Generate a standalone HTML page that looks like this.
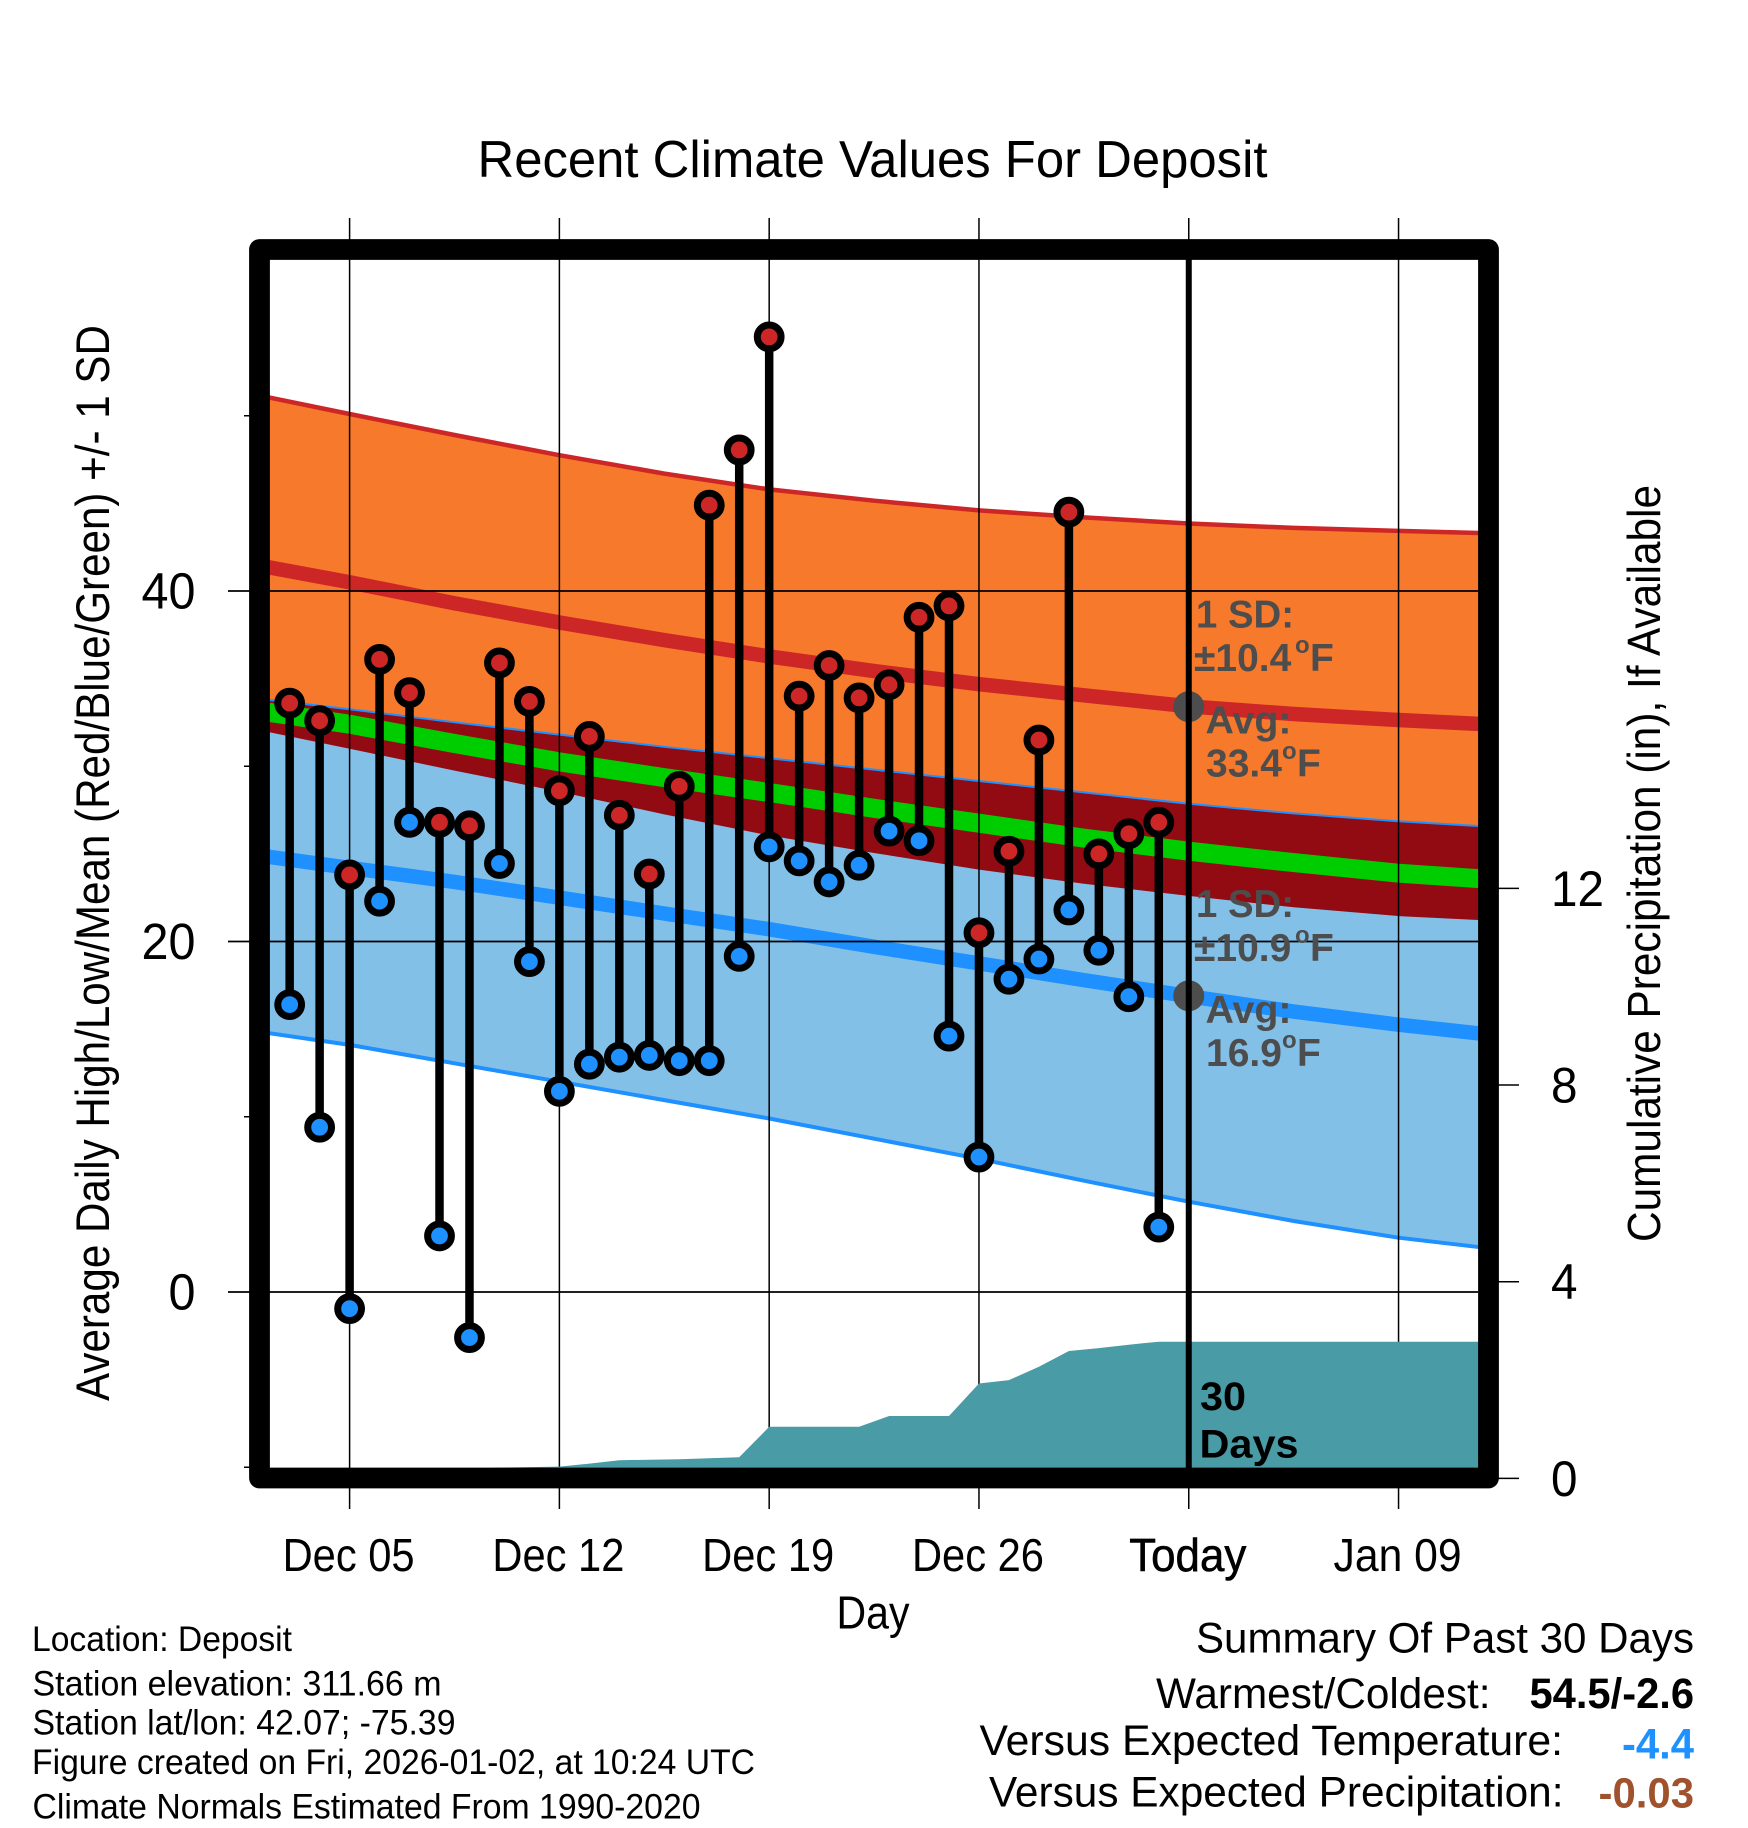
<!DOCTYPE html>
<html lang="en">
<head>
<meta charset="utf-8">
<title>Recent Climate Values For Deposit</title>
<style>
html,body{margin:0;padding:0;background:#fff;width:1748px;height:1828px;overflow:hidden}
svg{display:block;font-family:"Liberation Sans",Arial,Helvetica,sans-serif}
text{fill:#000}
.ann{font-weight:700;fill:#4d4d4d;font-size:39px}
.deg{font-weight:700;fill:#4d4d4d;font-size:24px}
</style>
</head>
<body>
<svg id="chart" xmlns="http://www.w3.org/2000/svg" width="1748" height="1828" viewBox="0 0 1748 1828">
  <rect x="0" y="0" width="1748" height="1828" fill="#fff"/>
  <g id="normals"></g>
  <g id="grid"></g>
  <g id="precip"></g>
  <g id="temps"></g>
  <g id="today"></g>
  <rect x="259.5" y="249.5" width="1229" height="1228.5" fill="none" stroke="#000" stroke-width="20.8" stroke-linejoin="round"/>
  <g id="ticks"></g>
  <g id="labels"></g>

  <text x="477.5" y="177" font-size="52" textLength="790" lengthAdjust="spacingAndGlyphs">Recent Climate Values For Deposit</text>
  <text transform="translate(109,1401) rotate(-90)" x="0" y="0" font-size="47" textLength="1076" lengthAdjust="spacingAndGlyphs">Average Daily High/Low/Mean (Red/Blue/Green) +/- 1 SD</text>
  <text transform="translate(1660,1242) rotate(-90)" x="0" y="0" font-size="46" textLength="757" lengthAdjust="spacingAndGlyphs">Cumulative Precipitation (in), If Available</text>
  <text x="836.5" y="1628.7" font-size="46" textLength="73" lengthAdjust="spacingAndGlyphs">Day</text>

  <g>
    <text class="ann" x="1196" y="627.5" textLength="98" lengthAdjust="spacingAndGlyphs">1 SD:</text>
    <text class="ann" y="671"><tspan x="1194">±10.4</tspan><tspan class="deg" x="1295" y="653">o</tspan><tspan x="1310" y="671">F</tspan></text>
    <text class="ann" x="1205.5" y="733.5" textLength="86" lengthAdjust="spacingAndGlyphs">Avg:</text>
    <text class="ann" y="776.5"><tspan x="1206">33.4</tspan><tspan class="deg" x="1282" y="759">o</tspan><tspan x="1297" y="776.5">F</tspan></text>
  </g>
  <g>
    <text class="ann" x="1196" y="917" textLength="98" lengthAdjust="spacingAndGlyphs">1 SD:</text>
    <text class="ann" y="961"><tspan x="1194">±10.9</tspan><tspan class="deg" x="1295" y="943">o</tspan><tspan x="1310" y="961">F</tspan></text>
    <text class="ann" x="1205.5" y="1023" textLength="86" lengthAdjust="spacingAndGlyphs">Avg:</text>
    <text class="ann" y="1066"><tspan x="1206">16.9</tspan><tspan class="deg" x="1282" y="1048">o</tspan><tspan x="1297" y="1066">F</tspan></text>
  </g>
  <text x="1200" y="1410" font-size="40" font-weight="700" textLength="46" lengthAdjust="spacingAndGlyphs">30</text>
  <text x="1199.5" y="1457.5" font-size="40" font-weight="700" textLength="99" lengthAdjust="spacingAndGlyphs">Days</text>

  <g font-size="35">
    <text x="32" y="1651" textLength="260" lengthAdjust="spacingAndGlyphs">Location: Deposit</text>
    <text x="32.5" y="1695.7" textLength="409" lengthAdjust="spacingAndGlyphs">Station elevation: 311.66 m</text>
    <text x="32.5" y="1734.5" textLength="423" lengthAdjust="spacingAndGlyphs">Station lat/lon: 42.07; -75.39</text>
    <text x="32" y="1774" textLength="723" lengthAdjust="spacingAndGlyphs">Figure created on Fri, 2026-01-02, at 10:24 UTC</text>
    <text x="32.5" y="1818.7" textLength="668" lengthAdjust="spacingAndGlyphs">Climate Normals Estimated From 1990-2020</text>
  </g>
  <g font-size="43">
    <text x="1196" y="1652.7" textLength="498" lengthAdjust="spacingAndGlyphs">Summary Of Past 30 Days</text>
    <text x="1156" y="1708" textLength="334.5" lengthAdjust="spacingAndGlyphs">Warmest/Coldest:</text>
    <text x="1529.5" y="1708" font-weight="700" textLength="164.5" lengthAdjust="spacingAndGlyphs">54.5/-2.6</text>
    <text x="979.5" y="1755" textLength="583.5" lengthAdjust="spacingAndGlyphs">Versus Expected Temperature:</text>
    <text x="1622" y="1758.5" font-weight="700" style="fill:#1e90ff" textLength="72" lengthAdjust="spacingAndGlyphs">-4.4</text>
    <text x="989" y="1806.7" textLength="574.5" lengthAdjust="spacingAndGlyphs">Versus Expected Precipitation:</text>
    <text x="1598.5" y="1807.5" font-weight="700" style="fill:#a0522d" textLength="95.5" lengthAdjust="spacingAndGlyphs">-0.03</text>
  </g>
</svg>
<script>
// Daily observations: Dec 3 through Jan 1 (day index 0 = Dec 5)
const obsDays = [-2,-1,0,1,2,3,4,5,6,7,8,9,10,11,12,13,14,15,16,17,18,19,20,21,22,23,24,25,26,27];
const highs = [33.6,32.6,23.8,36.1,34.2,26.8,26.6,35.9,33.7,28.6,31.7,27.2,23.85,28.85,44.9,48.05,54.5,34.0,35.75,33.9,34.65,38.5,39.15,20.5,25.15,31.5,44.5,25.0,26.15,26.8];
const lows = [16.4,9.4,-0.95,22.3,26.8,3.2,-2.6,24.45,18.85,11.45,13.0,13.4,13.5,13.2,13.2,19.15,25.4,24.6,23.4,24.35,26.3,25.75,14.6,7.7,17.85,19.0,21.8,19.5,16.85,3.7];
// Cumulative precipitation (in) on the same days
const precipTotals = [0,0,0,0,0,0,0.2,0.22,0.23,0.24,0.3,0.37,0.38,0.39,0.41,0.43,1.05,1.05,1.05,1.05,1.27,1.27,1.27,1.93,2.0,2.27,2.59,2.65,2.72,2.78];
// Climate normals sampled along the axis
const normalDays = [-3,0,3.5,7,10.5,14,17.5,21,24.5,28,31.5,35,38];
const highPlusSd = [51.15,50.1,48.9,47.75,46.7,45.8,45.15,44.6,44.2,43.85,43.6,43.43,43.3];
const highMean = [41.45,40.5,39.3,38.2,37.2,36.27,35.43,34.68,34.05,33.42,32.98,32.64,32.39];
const highMinusSd = [32.05,31.0,29.75,28.55,27.25,26.05,25.05,24.1,23.3,22.6,21.95,21.45,21.2];
const overallMean = [33.15,32.4,31.3,30.25,29.35,28.5,27.6,26.75,25.9,25.15,24.5,23.9,23.55];
const lowPlusSd = [33.8,33.2,32.45,31.75,31.05,30.4,29.75,29.1,28.45,27.8,27.25,26.8,26.5];
const lowMean = [24.9,24.2,23.4,22.5,21.6,20.7,19.7,18.75,17.8,16.88,16.0,15.25,14.7];
const lowMinusSd = [14.85,14.1,13.05,12.0,10.95,9.9,8.75,7.6,6.35,5.15,4.05,3.1,2.5];
const xTickDays = [0,7,14,21,28,35];
const xTickLabels = ['Dec 05','Dec 12','Dec 19','Dec 26','Today','Jan 09'];
const xLabelWidths = [132,132,132,132,117,128];
const yMajorTicks = [40,20,0];
const yMinorTicks = [50,30,10,-10];
const precipTicks = [12,8,4,0];
const todayDay = 28;
const todayHigh = 33.4;
const todayLow = 16.9;
const domainEndDay = 38;

const xDay = d => 349.6 + 29.97 * d;
const yTemp = v => 1292 - 17.525 * v;
const yPrecip = p => 1478.4 - 49.17 * p;
const NS = 'http://www.w3.org/2000/svg';
function mk(tag, attrs, parent, text) {
  const e = document.createElementNS(NS, tag);
  for (const k in attrs) e.setAttribute(k, attrs[k]);
  if (text !== undefined) e.textContent = text;
  parent.appendChild(e);
  return e;
}
const pts = (ds, vs) => ds.map((d, i) => xDay(d).toFixed(1) + ',' + yTemp(vs[i]).toFixed(1));
const band = (top, bottom) => pts(normalDays, top).concat(pts(normalDays, bottom).reverse()).join(' ');
const line = vs => pts(normalDays, vs).join(' ');

const gN = document.getElementById('normals');
let el;
el = mk('polygon', {points: band(highPlusSd, highMinusSd), fill: '#f7792c'}, gN);


el = mk('polyline', {points: line(highPlusSd), fill: 'none', stroke: '#cd2626', 'stroke-width': 4.5}, gN);


el = mk('polyline', {points: line(highMean), fill: 'none', stroke: '#cd2626', 'stroke-width': 14.5}, gN);


el = mk('polygon', {points: band(lowPlusSd, lowMinusSd), fill: '#82c0e8'}, gN);


el = mk('polyline', {points: line(lowMinusSd), fill: 'none', stroke: '#1e90ff', 'stroke-width': 4}, gN);


el = mk('polyline', {points: line(lowPlusSd), fill: 'none', stroke: '#1e90ff', 'stroke-width': 4}, gN);


el = mk('polygon', {points: band(lowPlusSd, highMinusSd), fill: '#920b12'}, gN);


el = mk('polyline', {points: line(overallMean), fill: 'none', stroke: '#00cd00', 'stroke-width': 19}, gN);


el = mk('polyline', {points: line(lowMean), fill: 'none', stroke: '#1e90ff', 'stroke-width': 14.5}, gN);



const gG = document.getElementById('grid');
const gT = document.getElementById('ticks');
const gL = document.getElementById('labels');
xTickDays.forEach((d, i) => {
  const g = mk('line', {x1: xDay(d), x2: xDay(d), y1: 218, y2: 1509, stroke: '#000', 'stroke-width': 1.5}, gG);
  
  
  const attrs = {x: xDay(d) - xLabelWidths[i] / 2 - 1, y: 1571, 'font-size': 46, textLength: xLabelWidths[i], lengthAdjust: 'spacingAndGlyphs'};
  if (xTickLabels[i] === 'Today') { attrs.stroke = '#000'; attrs['stroke-width'] = 0.6; }
  const t = mk('text', attrs, gL, xTickLabels[i]);
  
  
});
yMajorTicks.forEach(v => {
  const g = mk('line', {x1: 228, x2: 1478, y1: yTemp(v), y2: yTemp(v), stroke: '#000', 'stroke-width': 1.7}, gG);
  
  
  const t = mk('text', {x: 195.5, y: yTemp(v) + 17.5, 'font-size': 51, 'text-anchor': 'end', textLength: String(v).length * 27, lengthAdjust: 'spacingAndGlyphs'}, gL, String(v));
  
  
});
yMinorTicks.forEach(v => {
  const g = mk('line', {x1: 244, x2: 252, y1: yTemp(v), y2: yTemp(v), stroke: '#000', 'stroke-width': 1.5}, gT);
  
  
});
precipTicks.forEach(p => {
  const g = mk('line', {x1: 1496, x2: 1519, y1: yPrecip(p), y2: yPrecip(p), stroke: '#000', 'stroke-width': 1.5}, gT);
  
  
  const t = mk('text', {x: 1551, y: yPrecip(p) + 17.5, 'font-size': 50, textLength: String(p).length * 26.5, lengthAdjust: 'spacingAndGlyphs'}, gL, String(p));
  
  
});

const gP = document.getElementById('precip');
const precipPts = [xDay(-3).toFixed(1) + ',' + yPrecip(0).toFixed(1)]
  .concat(obsDays.map((d, i) => xDay(d).toFixed(1) + ',' + yPrecip(precipTotals[i]).toFixed(1)))
  .concat([xDay(domainEndDay).toFixed(1) + ',' + yPrecip(precipTotals[precipTotals.length - 1]).toFixed(1),
           xDay(domainEndDay).toFixed(1) + ',' + yPrecip(0).toFixed(1)]);
el = mk('polygon', {points: precipPts.join(' '), fill: '#499ba5'}, gP);



const gD = document.getElementById('temps');
obsDays.forEach((d, i) => {
  const s = mk('line', {x1: xDay(d), x2: xDay(d), y1: yTemp(highs[i]), y2: yTemp(lows[i]), stroke: '#000', 'stroke-width': 8.5}, gD);
  
  
});
obsDays.forEach((d, i) => {
  const h = mk('circle', {cx: xDay(d), cy: yTemp(highs[i]), r: 11.9, fill: '#cd2626', stroke: '#000', 'stroke-width': 7}, gD);
  
  
  const l = mk('circle', {cx: xDay(d), cy: yTemp(lows[i]), r: 11.9, fill: '#1e90ff', stroke: '#000', 'stroke-width': 7}, gD);
  
  
});

const gY = document.getElementById('today');
el = mk('circle', {cx: xDay(todayDay), cy: yTemp(todayHigh), r: 15.5, fill: '#4d4d4d'}, gY);


el = mk('circle', {cx: xDay(todayDay), cy: yTemp(todayLow), r: 15.5, fill: '#4d4d4d'}, gY);


el = mk('line', {x1: xDay(todayDay), x2: xDay(todayDay), y1: 255, y2: 1475, stroke: '#000', 'stroke-width': 6}, gY);


</script>
</body>
</html>
